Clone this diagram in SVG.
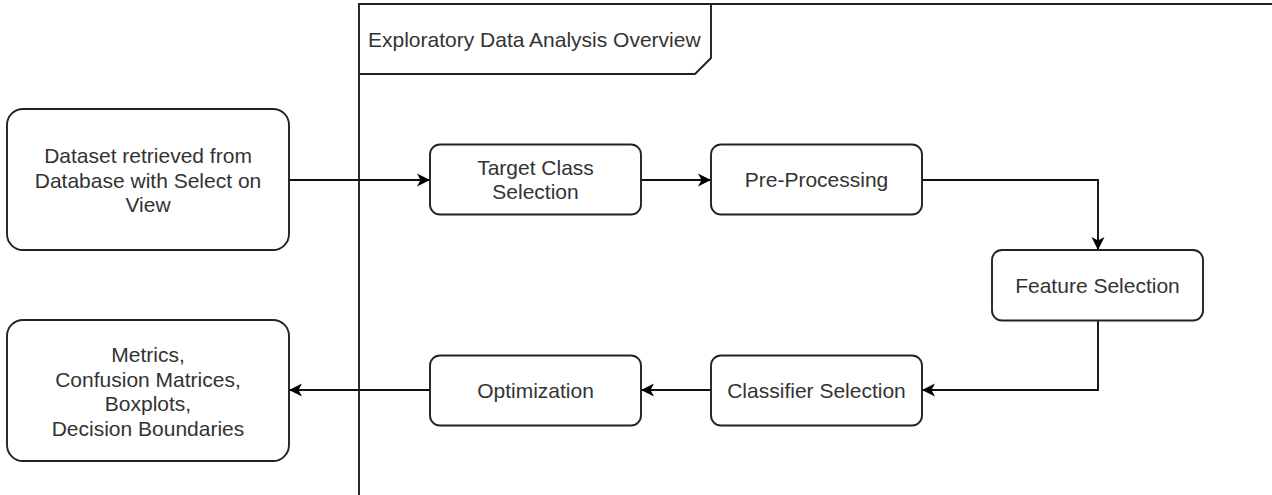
<svg xmlns="http://www.w3.org/2000/svg" width="1272" height="495" viewBox="0 0 1272 495">
  <defs>
    <marker id="arrow" viewBox="-15 -8 16 16" refX="0" refY="0" markerWidth="16" markerHeight="16" markerUnits="userSpaceOnUse" orient="auto">
      <path d="M0,0 L-13,-6.5 L-9.5,0 L-13,6.5 Z" fill="#000"/>
    </marker>
    <style>
      .box { fill: #fff; stroke: #222; stroke-width: 1.9; }
      .line { fill: none; stroke: #222; stroke-width: 1.9; }
      .conn { fill: none; stroke: #111; stroke-width: 1.9; marker-end: url(#arrow); }
      text { font-family: "Liberation Sans", Arial, sans-serif; font-size: 21px; fill: #333; }
      .c { text-anchor: middle; }
    </style>
  </defs>

  <rect width="1272" height="495" fill="#fff"/>

  <!-- frame with title tab -->
  <g id="frame">
    <path class="line" d="M359,495 V4 H1272"/>
    <path class="line" d="M359,74 H695 L711,58 V4"/>
    <text x="368" y="46.5">Exploratory Data Analysis Overview</text>
  </g>

  <!-- connectors -->
  <g id="connectors">
    <path class="conn" d="M289,180 H430"/>
    <path class="conn" d="M641,180 H711"/>
    <path class="conn" d="M922,180 H1098 V250"/>
    <path class="conn" d="M1098,321 V390 H922"/>
    <path class="conn" d="M711,390 H641"/>
    <path class="conn" d="M430,390 H289"/>
  </g>

  <g id="dataset">
    <rect class="box" x="7" y="109" width="282" height="141" rx="16" ry="16"/>
    <text class="c" x="148" y="163">Dataset retrieved from</text>
    <text class="c" x="148" y="187.5">Database with Select on</text>
    <text class="c" x="148" y="212">View</text>
  </g>

  <g id="target-class">
    <rect class="box" x="430" y="144.5" width="211" height="70" rx="10" ry="10"/>
    <text class="c" x="535.5" y="174.5">Target Class</text>
    <text class="c" x="535.5" y="199">Selection</text>
  </g>

  <g id="pre-processing">
    <rect class="box" x="711" y="144.5" width="211" height="70" rx="10" ry="10"/>
    <text class="c" x="816.5" y="187">Pre-Processing</text>
  </g>

  <g id="feature-selection">
    <rect class="box" x="992" y="250" width="211" height="70.5" rx="10" ry="10"/>
    <text class="c" x="1097.5" y="292.5">Feature Selection</text>
  </g>

  <g id="classifier-selection">
    <rect class="box" x="711" y="355.5" width="211" height="70" rx="10" ry="10"/>
    <text class="c" x="816.5" y="398">Classifier Selection</text>
  </g>

  <g id="optimization">
    <rect class="box" x="430" y="355.5" width="211" height="70" rx="10" ry="10"/>
    <text class="c" x="535.5" y="398">Optimization</text>
  </g>

  <g id="results">
    <rect class="box" x="7" y="320" width="282" height="141" rx="16" ry="16"/>
    <text class="c" x="148" y="362">Metrics,</text>
    <text class="c" x="148" y="386.5">Confusion Matrices,</text>
    <text class="c" x="148" y="411">Boxplots,</text>
    <text class="c" x="148" y="435.5">Decision Boundaries</text>
  </g>
</svg>
